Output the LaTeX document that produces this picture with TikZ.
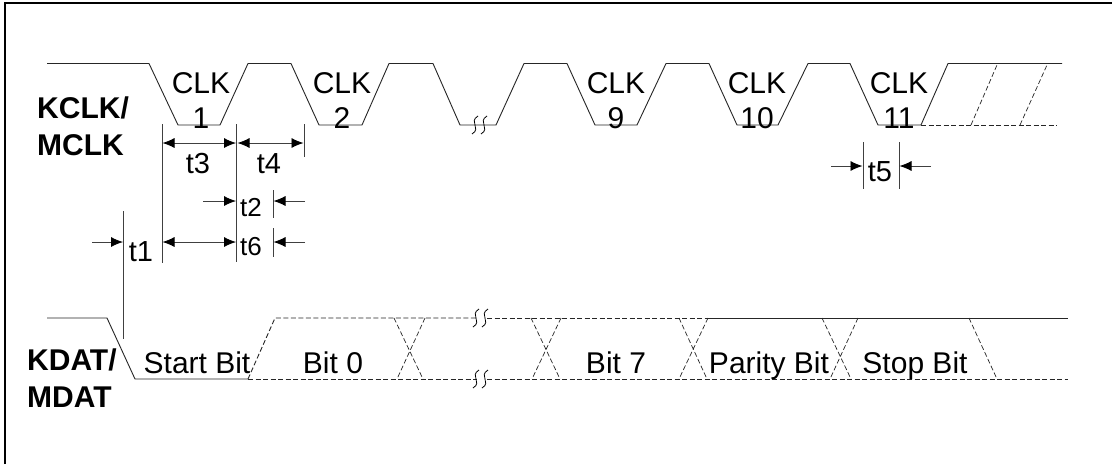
\documentclass[tikz,border=0pt]{standalone}
\usepackage{fontspec}
\setmainfont{Liberation Sans}
\usetikzlibrary{arrows.meta}
\tikzset{
  wave/.style={line width=0.9pt,black!85},
  dashwave/.style={wave,dash pattern=on 5pt off 2.5pt},
  tick/.style={line width=0.8pt,black!75},
  dim/.style={line width=0.8pt,black!75,-{Latex[length=12pt,width=10pt,black]}},
  dimboth/.style={line width=0.8pt,black!75,{Latex[length=12pt,width=10pt,black]}-{Latex[length=12pt,width=10pt,black]}},
  clklabel/.style={align=center,inner sep=0pt,font=\fontsize{30}{35}\selectfont},
  bitlabel/.style={inner sep=0pt,font=\fontsize{30}{35}\selectfont,anchor=base},
  timelabel/.style={inner sep=0pt,font=\fontsize{29}{32}\selectfont,anchor=base},
  smalltime/.style={inner sep=0pt,font=\fontsize{26}{30}\selectfont,anchor=base},
  sigboldlabel/.style={align=left,inner sep=0pt,anchor=north west,font=\fontsize{30}{37}\selectfont\bfseries},
  breakmark/.style={line width=0.8pt,black},
}
\begin{document}
\begin{tikzpicture}[x=1pt,y=-1pt]
  \useasboundingbox (0,0) rectangle (1112,464);
  \fill[white] (0,0) rectangle (1112,464);
  % frame, cut off at right and bottom
  \draw[line width=2.5pt] (5.2,464) -- (5.2,3) -- (1112,3);
  % clock
  \draw[wave] (47,63.5) -- (149,63.5) -- (178,125) -- (220,125) -- (248,63.5) -- (291,63.5)
    -- (319,125) -- (362,125) -- (389,63.5) -- (433,63.5) -- (460,125) -- (496,125)
    -- (524,63.5) -- (567,63.5) -- (595,125) -- (637,125) -- (666,63.5) -- (709,63.5)
    -- (737,125) -- (778,125) -- (808,63.5) -- (850,63.5) -- (878,125) -- (921,125)
    -- (948,63.5) -- (1062,63.5);
  \draw[dashwave] (921,125) -- (1057,125);
  \draw[dashwave,line width=0.7pt] (971,125) -- (997,65);
  \draw[dashwave,line width=0.7pt] (1020,125) -- (1047,65);
  % data
  \draw[wave] (47,318) -- (107,318) -- (135,379) -- (248,379);
  \draw[dashwave] (248,379) -- (275,318) -- (477,318);
  \draw[dashwave] (248,379) -- (477,379);
  \draw[dashwave] (487,318) -- (708,318);
  \draw[dashwave] (487,379) -- (1068,379);
  \draw[wave] (708,318) -- (1068,318);
  \foreach \xa/\xb/\xc/\xd in {394/423/425/397,531/560/561/532,679/707/708/679,822/851/858/830}
    \draw[dashwave,line width=0.7pt] (\xa,318) -- (\xb,379) (\xc,318) -- (\xd,379);
  \draw[dashwave,line width=0.7pt] (969,318) -- (997,379);
  % breaks
  \foreach \bx/\by in {475/125,484/125,476/318,485/318,476/379,485/379}
    \draw[breakmark] (\bx+3,\by-9) .. controls (\bx-7,\by-3) and (\bx+7,\by+3) .. (\bx-3,\by+9);
  % markers
  \coordinate (t1top) at (123.5,211);
  \coordinate (t1bot) at (123.5,339);
  \coordinate (lefttop) at (162,124);
  \coordinate (leftbot) at (162,263);
  \coordinate (midtop) at (236.5,124);
  \coordinate (midbot) at (236.5,262);
  \draw[tick] (t1top) -- (t1bot);
  \draw[tick] (lefttop) -- (leftbot);
  \draw[tick] (midtop) -- (midbot);
  \draw[tick] (304,124) -- (304,157);
  \draw[tick] (273,190) -- (273,218);
  \draw[tick] (273,228) -- (273,257);
  \draw[tick] (863,142) -- (863,189);
  \draw[tick] (899,142) -- (899,189);
  % arrows
  \draw[dimboth] (162.5,143) -- (236,143);
  \draw[dimboth] (237.5,143) -- (303.5,143);
  \draw[dimboth] (162.5,242) -- (236,242);
  \draw[dim] (203,201) -- (236,201);
  \draw[dim] (305,201) -- (273.5,201);
  \draw[dim] (305,242) -- (273.5,242);
  \draw[dim] (92,242) -- (123,242);
  \draw[dim] (831,166) -- (862.5,166);
  \draw[dim] (931,166) -- (899.5,166);
  % labels
  \node[clklabel] (clk1) at (201,100.5) {CLK\\1};
  \node[clklabel] (clk2) at (342,100.5) {CLK\\2};
  \node[clklabel] (clk9) at (616,100.5) {CLK\\9};
  \node[clklabel] (clk10) at (757,100.5) {CLK\\10};
  \node[clklabel] (clk11) at (899,100.5) {CLK\\11};
  \node[sigboldlabel] (kclk) at (37,97) {KCLK/\\MCLK};
  \node[sigboldlabel] (kdat) at (27,349) {KDAT/\\MDAT};
  \node[bitlabel] (startbit) at (197,373) {Start Bit};
  \node[bitlabel] (bit0) at (333,373) {Bit 0};
  \node[bitlabel] (bit7) at (616,373) {Bit 7};
  \node[bitlabel] (paritybit) at (769,373) {Parity Bit};
  \node[bitlabel] (stopbit) at (915,373) {Stop Bit};
  \node[timelabel] (t3) at (198,173) {t3};
  \node[timelabel] (t4) at (269,173) {t4};
  \node[timelabel] (t1) at (141,261) {t1};
  \node[timelabel] (t5) at (880,181) {t5};
  \node[smalltime] (t2) at (251,216) {t2};
  \node[smalltime] (t6) at (251,255) {t6};
\end{tikzpicture}
\end{document}
